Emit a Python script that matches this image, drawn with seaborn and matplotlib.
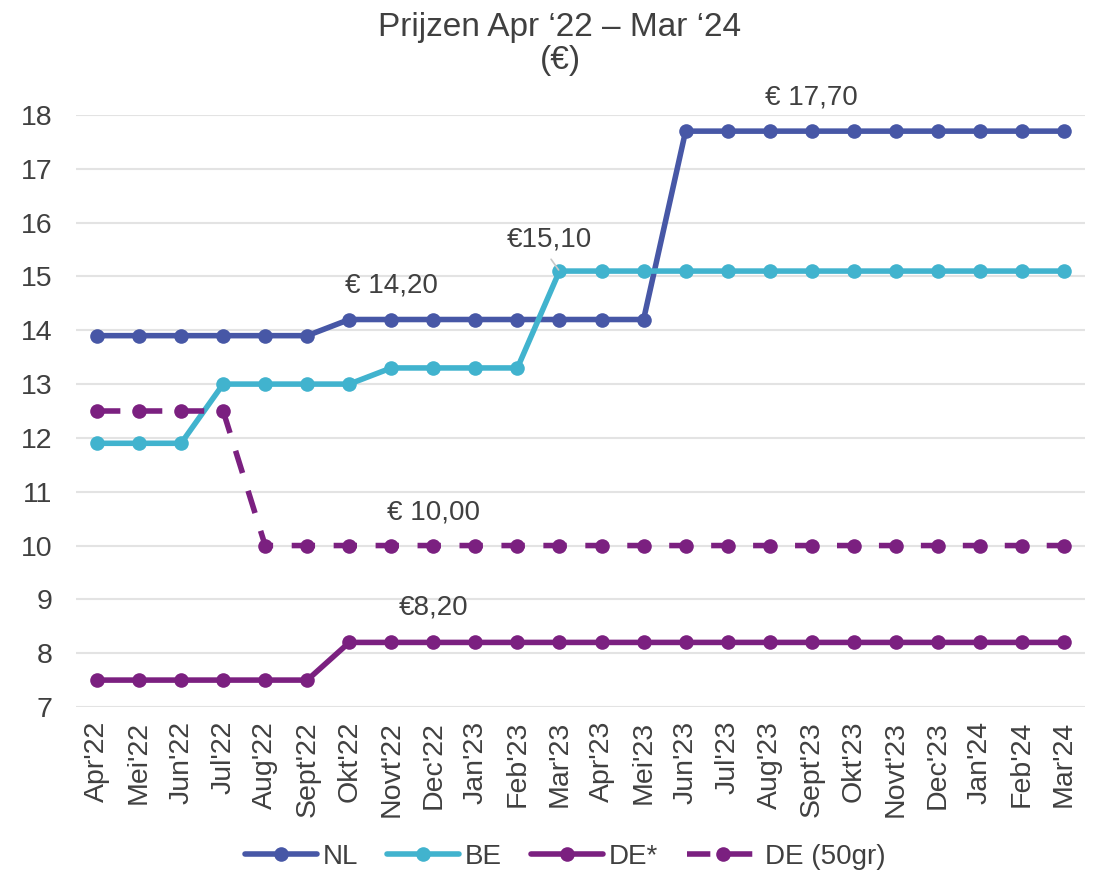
import numpy as np
import pandas as pd
import seaborn as sns
import matplotlib
matplotlib.use("Agg")
import matplotlib.pyplot as plt

# Maanden en prijzen per land
months = ["Apr'22", "Mei'22", "Jun'22", "Jul'22", "Aug'22", "Sept'22", "Okt'22",
          "Novt'22", "Dec'22", "Jan'23", "Feb'23", "Mar'23", "Apr'23", "Mei'23",
          "Jun'23", "Jul'23", "Aug'23", "Sept'23", "Okt'23", "Novt'23", "Dec'23",
          "Jan'24", "Feb'24", "Mar'24"]

nl = [13.9] * 6 + [14.2] * 8 + [17.7] * 10
be = [11.9] * 3 + [13.0] * 4 + [13.3] * 4 + [15.1] * 13
de = [7.5] * 6 + [8.2] * 18
de_50gr = [12.5] * 4 + [10.0] * 20

yticks = list(range(7, 19))

sns.set_theme(style="whitegrid")
plt.rcParams['font.family'] = ['Liberation Sans', 'DejaVu Sans']

fig, ax = plt.subplots(figsize=(10.97, 8.77), dpi=100)

x = np.arange(len(months))
series = [
    ("NL", nl, "#4757A6", None),
    ("BE", be, "#41B3CE", None),
    ("DE*", de, "#7B2080", None),
    ("DE (50gr)", de_50gr, "#7B2080", [4.2, 3.35]),
]
for name, vals, col, dash in series:
    sns.lineplot(x=x, y=vals, ax=ax, color=col, linewidth=4, marker="o",
                 markersize=10.5, markeredgewidth=0, label=name, sort=False)
    l = ax.lines[-1]
    l.set_solid_capstyle("round")
    l.set_clip_on(False)
    if dash is not None:
        l.set_linestyle((0, tuple(dash)))
        l.set_dash_capstyle("butt")

ax.set_xlim(-0.5, len(months) - 0.5)
ax.set_ylim(7, 18)
ax.set_yticks(yticks)
ax.set_xticks(x)
ax.set_xticklabels(months, rotation=90, fontsize=20.5, color="#404040")
ax.tick_params(axis="y", labelsize=20.5, labelcolor="#404040", pad=11)
ax.tick_params(axis="x", pad=4)
ax.grid(axis="x", visible=False)
ax.grid(axis="y", color="#E3E3E3", linewidth=1.5)
for s in ax.spines.values():
    s.set_visible(False)
ax.set_xlabel("")
ax.set_ylabel("")

fig.text(560 / 1097, 1 - 44 / 877, "Prijzen Apr \u201822 \u2013 Mar \u201824\n(\u20ac)",
         fontsize=24, color="#404040", ha="center", va="center", linespacing=1.05)

ann_kw = dict(fontsize=20, color="#404040", ha="center", va="center")
ax.text(7, 14.84, "\u20ac 14,20", **ann_kw)
ax.text(17, 18.33, "\u20ac 17,70", **ann_kw)
ax.text(10.75, 15.68, "\u20ac15,10", **ann_kw)
ax.plot([10.8, 10.98], [15.32, 15.12], color="#C8C8C8", linewidth=1.2)
ax.text(8, 10.62, "\u20ac 10,00", **ann_kw)
ax.text(8, 8.84, "\u20ac8,20", **ann_kw)

ax.get_legend().remove()
handles, labels = ax.get_legend_handles_labels()
leg = fig.legend(handles, labels, loc="center", bbox_to_anchor=(565 / 1097, 1 - 857 / 877),
                 ncol=4, frameon=False, fontsize=20, handlelength=2.6,
                 columnspacing=1.05, handletextpad=0.2)
for t in leg.get_texts():
    t.set_color("#404040")

fig.subplots_adjust(left=76 / 1097, right=1085 / 1097, top=1 - 115 / 877, bottom=1 - 707 / 877)
fig.savefig("out.png", dpi=100)
